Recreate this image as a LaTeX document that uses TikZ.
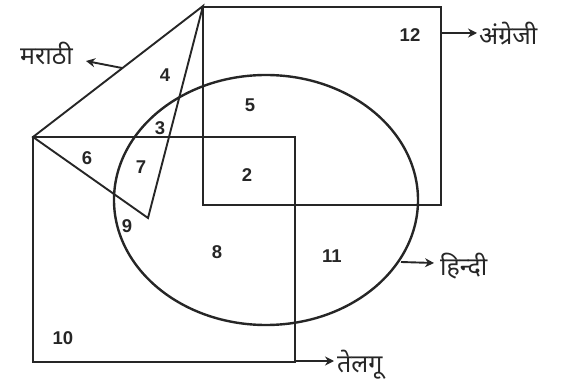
\documentclass[tikz,border=0pt]{standalone}
\usepackage{fontspec}
\setmainfont{Liberation Sans}
\newfontfamily\devfont[Script=Devanagari]{Noto Sans}
\usetikzlibrary{arrows.meta}
\begin{document}
\begin{tikzpicture}[x=1pt,y=-1pt,
  shape line/.style={line width=1.9pt,draw=black!85},
  num/.style={font=\fontsize{18.5}{18.5}\selectfont\bfseries,text=black!85,inner sep=0pt},
  lang/.style={font=\devfont\fontsize{25}{28}\selectfont,text=black!85,inner sep=0pt},
  pointer/.style={line width=1.9pt,draw=black!85,-{Stealth[length=9pt,width=9pt]}}]
\useasboundingbox (0,0) rectangle (567,387);
% shapes
\coordinate (tA) at (203,6);
\coordinate (tB) at (33,137);
\coordinate (tC) at (148,218);
\draw[shape line] (203,7) rectangle (441,205);
\draw[shape line] (33,137) rectangle (295,362);
\draw[shape line,line width=2.4pt] (266,200) ellipse [x radius=152, y radius=125];
\draw[shape line,line join=miter] (tA) -- (tB) -- (tC) -- cycle;
% numbers
\node[num] at (165,75) {4};
\node[num] at (250,105) {5};
\node[num] at (160,128) {3};
\node[num] at (87,158) {6};
\node[num] at (141,167) {7};
\node[num] at (247,175) {2};
\node[num] at (127,226) {9};
\node[num] at (217,252) {8};
\node[num] at (332,256) {11};
\node[num] at (63,338) {10};
\node[num] at (410,35) {12};
% labels
\node[lang,anchor=base east] (mar) at (73,65) {मराठी};
\node[lang,anchor=base west] (eng) at (479,45) {अंग्रेजी};
\node[lang,anchor=base west] (hin) at (440,275) {हिन्दी};
\node[lang,anchor=base west] (tel) at (337,372) {तेलगू};
\coordinate (marS) at (122,68);
\coordinate (marE) at (86,61);
\coordinate (engS) at (442,33);
\coordinate (engE) at (477,33);
\coordinate (hinS) at (401,262);
\coordinate (hinE) at (434,263);
\coordinate (telS) at (295,361);
\coordinate (telE) at (334,361);
\draw[pointer] (marS) -- (marE);
\draw[pointer] (engS) -- (engE);
\draw[pointer] (hinS) -- (hinE);
\draw[pointer] (telS) -- (telE);
\end{tikzpicture}
\end{document}
